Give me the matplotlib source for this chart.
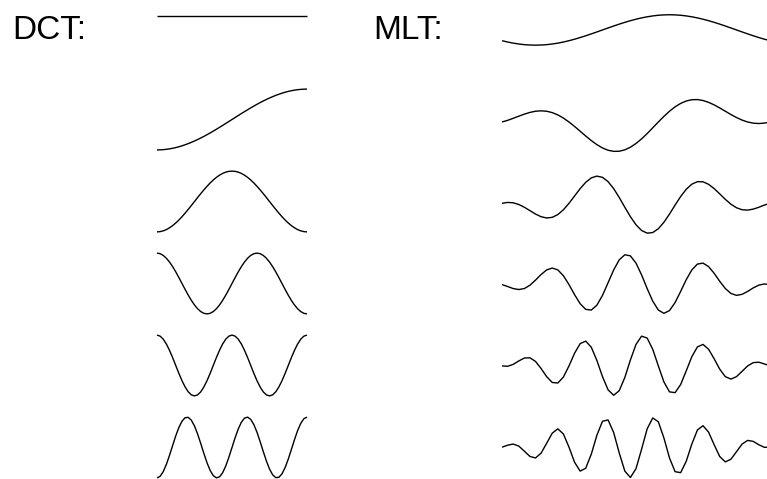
import matplotlib
matplotlib.use("Agg")
import matplotlib.pyplot as plt
import numpy as np

plt.rcParams['font.family'] = ['Liberation Sans', 'DejaVu Sans']

# sample positions along each basis function (fraction of its length)
positions = np.linspace(0, 1, 49)

# DCT basis functions (rows top to bottom), amplitude-normalised
dct_0 = [0.707] * 49
dct_1 = [-1.000, -0.998, -0.991, -0.981, -0.966, -0.947, -0.924, -0.897, -0.866, -0.831,
         -0.793, -0.752, -0.707, -0.659, -0.609, -0.556, -0.500, -0.442, -0.383, -0.321,
         -0.259, -0.195, -0.131, -0.065, 0.000, 0.065, 0.131, 0.195, 0.259, 0.321,
         0.383, 0.442, 0.500, 0.556, 0.609, 0.659, 0.707, 0.752, 0.793, 0.831,
         0.866, 0.897, 0.924, 0.947, 0.966, 0.981, 0.991, 0.998, 1.000]
dct_2 = [-1.000, -0.991, -0.966, -0.924, -0.866, -0.793, -0.707, -0.609, -0.500, -0.383,
         -0.259, -0.131, 0.000, 0.131, 0.259, 0.383, 0.500, 0.609, 0.707, 0.793,
         0.866, 0.924, 0.966, 0.991, 1.000, 0.991, 0.966, 0.924, 0.866, 0.793,
         0.707, 0.609, 0.500, 0.383, 0.259, 0.131, 0.000, -0.131, -0.259, -0.383,
         -0.500, -0.609, -0.707, -0.793, -0.866, -0.924, -0.966, -0.991, -1.000]
dct_3 = [1.000, 0.981, 0.924, 0.831, 0.707, 0.556, 0.383, 0.195, 0.000, -0.195,
         -0.383, -0.556, -0.707, -0.831, -0.924, -0.981, -1.000, -0.981, -0.924, -0.831,
         -0.707, -0.556, -0.383, -0.195, 0.000, 0.195, 0.383, 0.556, 0.707, 0.831,
         0.924, 0.981, 1.000, 0.981, 0.924, 0.831, 0.707, 0.556, 0.383, 0.195,
         0.000, -0.195, -0.383, -0.556, -0.707, -0.831, -0.924, -0.981, -1.000]
dct_4 = [1.000, 0.966, 0.866, 0.707, 0.500, 0.259, 0.000, -0.259, -0.500, -0.707,
         -0.866, -0.966, -1.000, -0.966, -0.866, -0.707, -0.500, -0.259, 0.000, 0.259,
         0.500, 0.707, 0.866, 0.966, 1.000, 0.966, 0.866, 0.707, 0.500, 0.259,
         0.000, -0.259, -0.500, -0.707, -0.866, -0.966, -1.000, -0.966, -0.866, -0.707,
         -0.500, -0.259, 0.000, 0.259, 0.500, 0.707, 0.866, 0.966, 1.000]
dct_5 = [-1.000, -0.947, -0.793, -0.556, -0.259, 0.065, 0.383, 0.659, 0.866, 0.981,
         0.991, 0.897, 0.707, 0.442, 0.131, -0.195, -0.500, -0.752, -0.924, -0.998,
         -0.966, -0.831, -0.609, -0.321, 0.000, 0.321, 0.609, 0.831, 0.966, 0.998,
         0.924, 0.752, 0.500, 0.195, -0.131, -0.442, -0.707, -0.897, -0.991, -0.981,
         -0.866, -0.659, -0.383, -0.065, 0.259, 0.556, 0.793, 0.947, 1.000]

# MLT basis functions (rows top to bottom)
mlt_0 = [0.000, -0.043, -0.080, -0.108, -0.130, -0.142, -0.147, -0.142, -0.130, -0.108,
         -0.080, -0.043, 0.000, 0.049, 0.104, 0.162, 0.224, 0.288, 0.354, 0.419,
         0.483, 0.545, 0.604, 0.658, 0.707, 0.750, 0.786, 0.815, 0.837, 0.849,
         0.854, 0.849, 0.837, 0.815, 0.786, 0.750, 0.707, 0.658, 0.604, 0.545,
         0.483, 0.419, 0.354, 0.288, 0.224, 0.162, 0.104, 0.049, 0.000]
mlt_1 = [0.000, 0.054, 0.121, 0.191, 0.259, 0.315, 0.354, 0.367, 0.354, 0.309,
         0.233, 0.129, 0.000, -0.147, -0.304, -0.462, -0.612, -0.745, -0.854, -0.929,
         -0.966, -0.962, -0.916, -0.829, -0.707, -0.555, -0.380, -0.191, 0.000, 0.185,
         0.354, 0.499, 0.612, 0.691, 0.733, 0.738, 0.707, 0.646, 0.563, 0.462,
         0.354, 0.246, 0.147, 0.063, 0.000, -0.038, -0.050, -0.036, 0.000]
mlt_2 = [0.000, 0.029, 0.017, -0.038, -0.130, -0.241, -0.354, -0.441, -0.483, -0.462,
         -0.371, -0.212, 0.000, 0.241, 0.483, 0.691, 0.837, 0.895, 0.854, 0.712,
         0.483, 0.191, -0.130, -0.441, -0.707, -0.895, -0.982, -0.962, -0.837, -0.624,
         -0.354, -0.058, 0.224, 0.462, 0.629, 0.712, 0.707, 0.624, 0.483, 0.309,
         0.130, -0.029, -0.147, -0.212, -0.224, -0.191, -0.130, -0.058, 0.000]
mlt_3 = [0.000, -0.062, -0.130, -0.162, -0.130, -0.021, 0.147, 0.332, 0.483, 0.545,
         0.483, 0.291, 0.000, -0.332, -0.629, -0.815, -0.837, -0.675, -0.354, 0.062,
         0.483, 0.815, 0.982, 0.945, 0.707, 0.320, -0.130, -0.545, -0.837, -0.945,
         -0.854, -0.591, -0.224, 0.162, 0.483, 0.675, 0.707, 0.591, 0.371, 0.108,
         -0.130, -0.291, -0.354, -0.320, -0.224, -0.108, -0.017, 0.021, 0.000]
mlt_4 = [0.000, -0.013, 0.050, 0.162, 0.259, 0.267, 0.147, -0.086, -0.354, -0.545,
         -0.563, -0.366, 0.000, 0.418, 0.733, 0.815, 0.612, 0.175, -0.354, -0.787,
         -0.966, -0.815, -0.380, 0.195, 0.707, 0.979, 0.916, 0.545, 0.000, -0.527,
         -0.854, -0.880, -0.612, -0.162, 0.304, 0.625, 0.707, 0.548, 0.233, -0.108,
         -0.354, -0.434, -0.354, -0.178, 0.000, 0.108, 0.121, 0.064, 0.000]
mlt_5 = [0.000, 0.065, 0.104, 0.038, -0.130, -0.304, -0.354, -0.195, 0.130, 0.462,
         0.604, 0.434, 0.000, -0.496, -0.786, -0.691, -0.224, 0.396, 0.854, 0.897,
         0.483, -0.191, -0.786, -0.996, -0.707, -0.065, 0.604, 0.962, 0.837, 0.304,
         -0.354, -0.805, -0.837, -0.462, 0.104, 0.566, 0.707, 0.496, 0.080, -0.309,
         -0.483, -0.396, -0.147, 0.103, 0.224, 0.191, 0.080, -0.004, 0.000]

dct_rows = [dct_0, dct_1, dct_2, dct_3, dct_4, dct_5]
mlt_rows = [mlt_0, mlt_1, mlt_2, mlt_3, mlt_4, mlt_5]
labels = ["DCT:", "MLT:"]

# ---- layout (pixels of a 767x479 canvas) ----
W, H = 767, 479
UNIT = 30.4  # pixels per unit amplitude

fig = plt.figure(figsize=(W / 100, H / 100), dpi=100)
fig.patch.set_facecolor("white")


def make_axes(left_px, width_px, first_center_px):
    ax = fig.add_axes([left_px / W, 0, width_px / W, 1])
    ax.set_xlim(0, 1)
    ax.set_ylim(-(H - first_center_px) / UNIT, first_center_px / UNIT)
    ax.axis("off")
    return ax


ax_dct = make_axes(157, 150, 37.5)
for i, vals in enumerate(dct_rows):
    ax_dct.plot(positions, np.asarray(vals) - i * 82.0 / UNIT,
                color="black", lw=1.0, clip_on=False, solid_capstyle="butt")

ax_mlt = make_axes(502, 268, 40.7)
for i, vals in enumerate(mlt_rows):
    ax_mlt.plot(positions, np.asarray(vals) - i * 81.3 / UNIT,
                color="black", lw=1.0, clip_on=False, solid_capstyle="butt")

fig.text(12.5 / W, 1 - 39 / H, labels[0], fontsize=24, ha="left", va="baseline")
fig.text(373.5 / W, 1 - 39 / H, labels[1], fontsize=24, ha="left", va="baseline")

fig.savefig("out.png", dpi=100, facecolor="white")
